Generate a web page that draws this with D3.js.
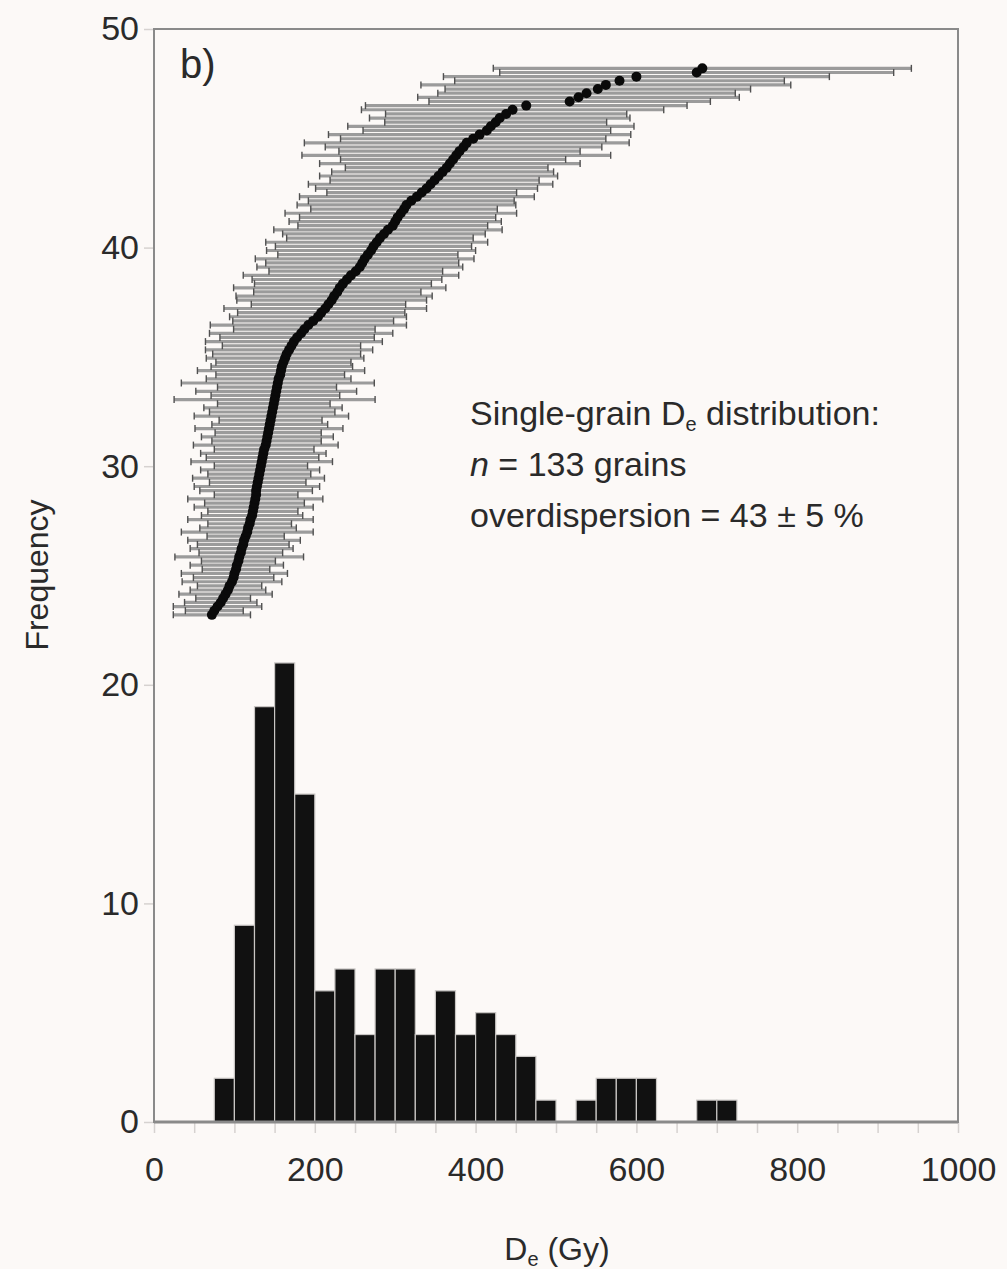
<!DOCTYPE html>
<html>
<head>
<meta charset="utf-8">
<script src="https://cdn.jsdelivr.net/npm/d3@7"></script>
<style>
  html, body { margin: 0; padding: 0; background: #fcf9f7; }
  text { font-family: "Liberation Sans", Arial, sans-serif; fill: #2a2a2a; }
</style>
</head>
<body>
<svg id="chart"></svg>
<script>
(function () {
// histogram: lower edge of each 25 Gy bin and its count
var binLow = [75, 100, 125, 150, 175, 200, 225, 250, 275, 300, 325, 350, 375,
              400, 425, 450, 475, 500, 525, 550, 575, 600, 625, 650, 675, 700]
var binCount = [2, 9, 19, 21, 15, 6, 7, 4, 7, 7, 4, 6, 4,
                5, 4, 3, 1, 0, 1, 2, 2, 2, 0, 0, 1, 1]
var binWidth = 25

// ranked single-grain De values (Gy), lowest first
var grainDe = [
  72, 75, 79, 83, 86, 89, 92, 94, 97,
  99, 100, 102, 103, 105, 106, 108, 109,
  111, 112, 114, 116, 117, 119, 120, 122,
  123, 124, 125, 126, 127, 127, 128, 129,
  130, 131, 132, 133, 134, 135,
  136, 137, 139, 140,
  141, 142, 143, 144, 145, 146, 147,
  148, 149, 150, 151, 152, 153, 154,
  155, 157, 158, 159, 161, 163,
  165, 168, 171, 174,
  178, 183, 187,
  192, 198, 204,
  208, 213, 217, 221,
  224, 228, 231, 235,
  240, 245, 251, 256,
  259, 262, 266, 270, 273, 277, 281,
  286, 291, 297,
  300, 303, 307, 311, 314,
  320, 327, 333, 339,
  344, 349, 354, 359, 364,
  368, 372, 376, 380, 385, 389,
  397, 405, 414,
  419, 425, 430,
  438, 446,
  463, 517, 528, 538, 552, 562, 579, 600, 675, 682
]
// error (Gy) for each grain, same order
var grainErr = [
  48, 36, 55, 45, 34, 58, 47, 40, 62,
  50, 66, 42, 58, 46, 80, 52, 64,
  57, 70, 48, 82, 60, 52, 78, 63,
  56, 74, 62, 84, 52, 70, 78, 60,
  82, 64, 74, 58, 88, 70,
  78, 62, 90, 68,
  82, 66, 92, 72, 64, 96, 78,
  86, 70, 125, 80, 100, 74, 120,
  90, 80, 104, 88, 84, 98,
  92, 104, 86, 110,
  96, 114, 88,
  122, 100, 110,
  104, 126, 96, 118,
  122, 104, 132, 110,
  118, 134, 108, 128,
  120, 136, 112, 130, 122, 138, 116,
  126, 142, 118,
  132, 122, 144, 116, 136,
  128, 146, 118, 138,
  152, 130, 148, 138, 126,
  162, 140, 192, 150, 172, 202,
  165, 188, 154,
  178, 138, 162,
  150, 188,
  200, 175, 200, 185, 190, 230, 205, 240, 245, 260
]
// frequency range the ranked plot is stretched over
var rankSpan = [23.2, 48.2]

var xTicks = [0, 200, 400, 600, 800, 1000]
var yTicks = [0, 10, 20, 30, 40, 50]

var W = 1007, H = 1269
var left = 154, right = 958, top = 29, bottom = 1122

var svg = d3.select('#chart').attr('width', W).attr('height', H)
svg.append('rect').attr('width', W).attr('height', H).attr('fill', '#fcf9f7')

var x = d3.scaleLinear().domain([0, 1000]).range([left, right])
var y = d3.scaleLinear().domain([0, 50]).range([bottom, top])
var yRank = d3.scaleLinear().domain([1, grainDe.length])
    .range([y(rankSpan[0]), y(rankSpan[1])])

// minor ticks, every 50 Gy
svg.append('g')
    .attr('transform', 'translate(0,' + bottom + ')')
    .call(d3.axisBottom(x).ticks(20).tickSize(11).tickFormat(''))
    .call(g => g.select('.domain').remove())
    .call(g => g.selectAll('line').attr('stroke', '#d6d2d0').attr('stroke-width', 1.5))

svg.append('g')
    .attr('transform', 'translate(0,' + bottom + ')')
    .call(d3.axisBottom(x).tickValues(xTicks).tickSize(0).tickPadding(35)
        .tickFormat(d3.format('d')))
    .call(g => g.select('.domain').remove())
    .call(g => g.selectAll('text').attr('font-size', 34).attr('fill', '#2a2a2a')
        .style('font-family', '"Liberation Sans", Arial, sans-serif'))

svg.append('g')
    .attr('transform', 'translate(' + left + ',0)')
    .call(d3.axisLeft(y).tickValues(yTicks).tickSize(10).tickPadding(5))
    .call(g => g.select('.domain').remove())
    .call(g => g.selectAll('line').attr('stroke', '#d6d2d0').attr('stroke-width', 1.5))
    .call(g => g.selectAll('text').attr('font-size', 34).attr('fill', '#2a2a2a')
        .style('font-family', '"Liberation Sans", Arial, sans-serif'))

// histogram
svg.append('g')
    .selectAll('rect')
    .data(binLow.map((d, i) => ({lo: d, n: binCount[i]})).filter(d => d.n > 0))
    .enter()
    .append('rect')
    .attr('x', d => x(d.lo))
    .attr('width', d => x(d.lo + binWidth) - x(d.lo))
    .attr('y', d => y(d.n))
    .attr('height', d => y(0) - y(d.n))
    .attr('fill', '#111')
    .attr('stroke', '#c9c6c4')
    .attr('stroke-width', 1.2)

// ranked De with error bars
var grains = grainDe.map((d, i) => ({de: d, err: grainErr[i], rank: i + 1}))
var eb = svg.append('g')
eb.selectAll('line.bar')
    .data(grains)
    .enter()
    .append('line')
    .attr('class', 'bar')
    .attr('x1', d => x(d.de - d.err))
    .attr('x2', d => x(d.de + d.err))
    .attr('y1', d => yRank(d.rank))
    .attr('y2', d => yRank(d.rank))
    .attr('stroke', '#9b9b9b')
    .attr('stroke-width', 3.2)
grains.forEach(function (d) {
    [d.de - d.err, d.de + d.err].forEach(function (v) {
        eb.append('line')
            .attr('x1', x(v)).attr('x2', x(v))
            .attr('y1', yRank(d.rank) - 3.5).attr('y2', yRank(d.rank) + 3.5)
            .attr('stroke', '#505050').attr('stroke-width', 1.4)
    })
})
svg.append('g')
    .selectAll('circle')
    .data(grains)
    .enter()
    .append('circle')
    .attr('cx', d => x(d.de))
    .attr('cy', d => yRank(d.rank))
    .attr('r', 5)
    .attr('fill', '#0a0a0a')

// frame
svg.append('rect')
    .attr('x', left).attr('y', top)
    .attr('width', right - left).attr('height', bottom - top)
    .attr('fill', 'none').attr('stroke', '#8a8a8a').attr('stroke-width', 2)
svg.append('line')
    .attr('x1', left).attr('x2', right).attr('y1', bottom).attr('y2', bottom)
    .attr('stroke', '#8a8a8a').attr('stroke-width', 3)

// labels
svg.append('text').attr('x', 180).attr('y', 78).attr('font-size', 40).text('b)')

var note = svg.append('text').attr('font-size', 34)
var l1 = note.append('tspan').attr('x', 470).attr('y', 425)
l1.append('tspan').text('Single-grain D')
l1.append('tspan').attr('font-size', 20).attr('dy', 6).text('e')
l1.append('tspan').attr('dy', -6).text(' distribution:')
var l2 = note.append('tspan').attr('x', 470).attr('y', 476)
l2.append('tspan').attr('font-style', 'italic').text('n')
l2.append('tspan').text(' = 133 grains')
note.append('tspan').attr('x', 470).attr('y', 527).text('overdispersion = 43 \u00b1 5 %')

var xl = svg.append('text').attr('x', 557).attr('y', 1260)
    .attr('text-anchor', 'middle').attr('font-size', 32)
xl.append('tspan').text('D')
xl.append('tspan').attr('font-size', 20).attr('dy', 6).text('e')
xl.append('tspan').attr('dy', -6).text(' (Gy)')

svg.append('text')
    .attr('transform', 'translate(48,575) rotate(-90)')
    .attr('text-anchor', 'middle').attr('font-size', 32)
    .text('Frequency')
})();
</script>
</body>
</html>
